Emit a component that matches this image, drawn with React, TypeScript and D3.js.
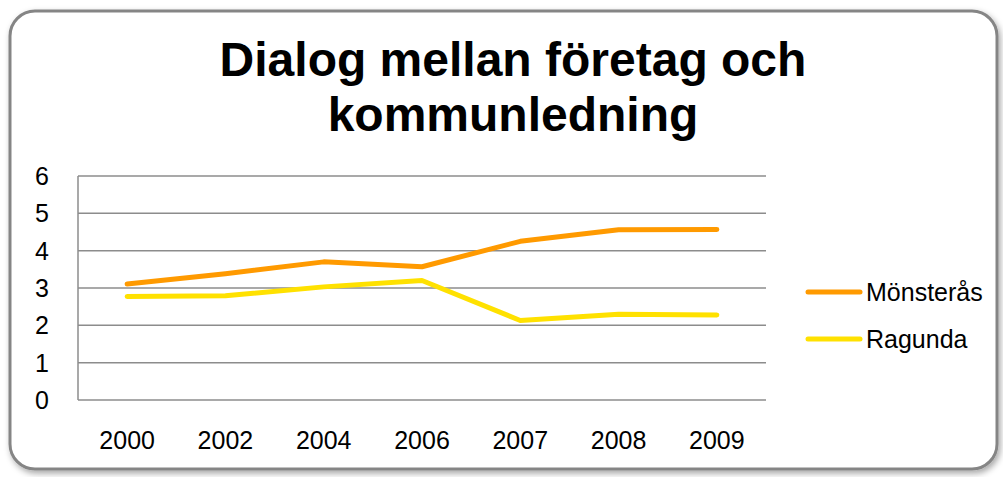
import React, { useEffect, useRef } from 'react';
import * as d3 from 'd3';

const years = ['2000', '2002', '2004', '2006', '2007', '2008', '2009'];
const monsteras = [3.11, 3.38, 3.7, 3.57, 4.25, 4.56, 4.57];
const ragunda = [2.77, 2.79, 3.03, 3.2, 2.13, 2.3, 2.28];
const yTicks = [0, 1, 2, 3, 4, 5, 6];
const seriesNames = ['Mönsterås', 'Ragunda'];
const seriesColors = ['#FF9A00', '#FFE100'];

const App = () => {
  const ref = useRef<SVGSVGElement>(null);

  useEffect(() => {
    if (!ref.current) return;
    const svg = d3.select(ref.current);
    svg.selectAll('*').remove();

    const font = 'Arial, "Liberation Sans", sans-serif';

    const defs = svg.append('defs');
    const f = defs.append('filter').attr('id', 'shadow').attr('x', '-5%').attr('y', '-5%').attr('width', '110%').attr('height', '115%');
    f.append('feDropShadow').attr('dx', 2).attr('dy', 3).attr('stdDeviation', 3).attr('flood-color', '#000').attr('flood-opacity', 0.35);

    // frame
    svg.append('rect')
      .attr('x', 10).attr('y', 11).attr('width', 987).attr('height', 458)
      .attr('rx', 25).attr('ry', 25)
      .attr('fill', '#fff').attr('stroke', '#858585').attr('stroke-width', 3)
      .attr('filter', 'url(#shadow)');

    // title
    const title = svg.append('text').attr('text-anchor', 'middle')
      .attr('font-family', font).attr('font-weight', 'bold').attr('font-size', 48).attr('fill', '#000');
    title.append('tspan').attr('x', 513).attr('y', 76).text('Dialog mellan företag och');
    title.append('tspan').attr('x', 513).attr('y', 131).text('kommunledning');

    const left = 78, right = 766, top = 176, bottom = 400;
    const x = d3.scaleBand().domain(years).range([left, right]);
    const y = d3.scaleLinear().domain([0, 6]).range([bottom, top]);

    // grid
    svg.append('g').selectAll('line').data(yTicks).enter().append('line')
      .attr('x1', left).attr('x2', right)
      .attr('y1', d => y(d)).attr('y2', d => y(d))
      .attr('stroke', '#8c8c8c').attr('stroke-width', 1.5);
    svg.append('line').attr('x1', left).attr('x2', left).attr('y1', top).attr('y2', bottom)
      .attr('stroke', '#8c8c8c').attr('stroke-width', 1.5);

    // y labels
    svg.append('g').selectAll('text').data(yTicks).enter().append('text')
      .attr('x', 49).attr('y', d => y(d) + 9).attr('text-anchor', 'end')
      .attr('font-family', font).attr('font-size', 25).attr('fill', '#000')
      .text(d => d);

    // x labels
    svg.append('g').selectAll('text').data(years).enter().append('text')
      .attr('x', d => (x(d) as number) + x.bandwidth() / 2).attr('y', 449).attr('text-anchor', 'middle')
      .attr('font-family', font).attr('font-size', 25).attr('fill', '#000')
      .text(d => d);

    const line = d3.line<number>()
      .x((_, i) => (x(years[i]) as number) + x.bandwidth() / 2)
      .y(d => y(d));

    [monsteras, ragunda].forEach((vals, i) => {
      svg.append('path').datum(vals)
        .attr('fill', 'none').attr('stroke', seriesColors[i]).attr('stroke-width', 5)
        .attr('stroke-linecap', 'round').attr('stroke-linejoin', 'round')
        .attr('d', line);
    });

    // legend
    seriesNames.forEach((name, i) => {
      const ly = 292 + i * 47;
      svg.append('line').attr('x1', 808).attr('x2', 860).attr('y1', ly).attr('y2', ly)
        .attr('stroke', seriesColors[i]).attr('stroke-width', 5).attr('stroke-linecap', 'round');
      svg.append('text').attr('x', 866).attr('y', ly + 9)
        .attr('font-family', font).attr('font-size', 25).attr('fill', '#000').text(name);
    });
  }, []);

  return (
    <div style={{ position: 'absolute', left: 0, top: 0 }}>
      <svg ref={ref} width={1003} height={477} style={{ display: 'block' }} />
    </div>
  );
};

export default App;
